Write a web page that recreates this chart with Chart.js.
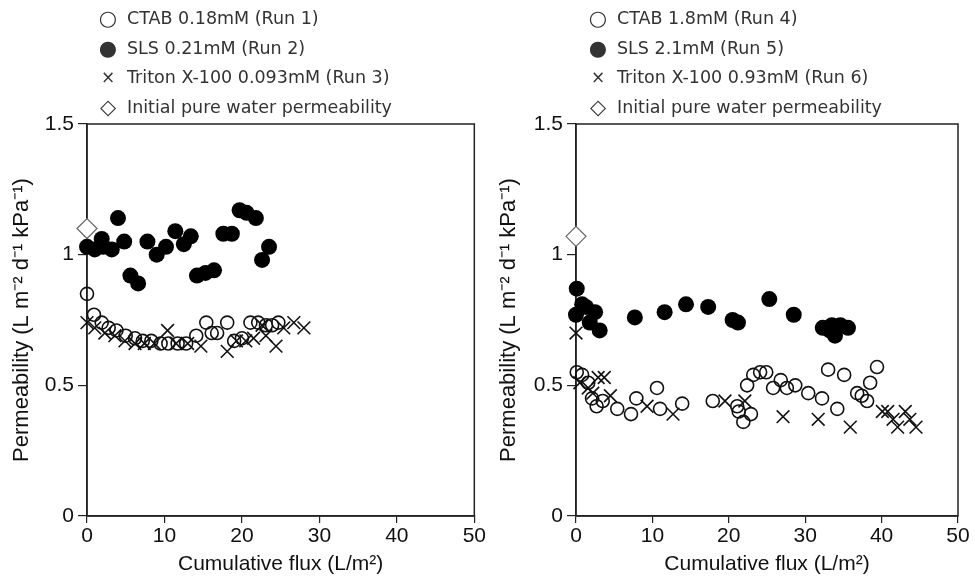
<!DOCTYPE html>
<html>
<head>
<meta charset="utf-8">
<script src="https://cdn.jsdelivr.net/npm/chart.js@4.4.1/dist/chart.umd.min.js"></script>
<style>
    body { margin: 0; background: #fff; width: 975px; height: 578px; position: relative; overflow: hidden; }
    .panel { position: absolute; top: 0; height: 578px; }
    .legend { position: absolute; top: 5px; font-family: 'DejaVu Sans', sans-serif; font-size: 17.5px; color: #333; }
    .legend div { height: 29.5px; line-height: 26px; white-space: nowrap; }
    .legend .mk { display: inline-block; width: 22px; text-align: center; margin-right: 8px; font-size: 21px; vertical-align: top; }
    .legend .mk.small { font-size: 17px; }
</style>
</head>
<body>
<div class="panel" style="left:0;width:487px;"><canvas id="leftChart"></canvas></div>
<div class="panel" style="left:487px;width:488px;"><canvas id="rightChart"></canvas></div>
<div class="legend" id="leftLegend" style="left:97px;"></div>
<div class="legend" id="rightLegend" style="left:587px;"></div>
<script>
// axis ticks
const fluxTicks = [0, 10, 20, 30, 40, 50];
const permTicks = [0, 0.5, 1, 1.5];

// left panel: low concentration runs
const ctab1Flux = [0, 0.9, 1.9, 2.8, 3.8, 5.0, 6.2, 7.2, 8.3, 9.5, 10.5, 11.7, 12.8, 14.1, 15.4, 16.1, 16.8, 18.1, 19.0, 20.0, 21.1, 22.1, 23.1, 23.9, 24.7];
const ctab1Perm = [0.85, 0.77, 0.74, 0.72, 0.71, 0.69, 0.68, 0.67, 0.67, 0.66, 0.66, 0.66, 0.66, 0.69, 0.74, 0.70, 0.70, 0.74, 0.67, 0.68, 0.74, 0.74, 0.73, 0.73, 0.74];

const sls2Flux = [0, 1.0, 1.9, 2.1, 3.2, 4.0, 4.8, 5.6, 6.6, 7.8, 9.0, 10.2, 11.4, 12.5, 13.4, 14.2, 15.3, 16.4, 17.6, 18.7, 19.7, 20.6, 21.8, 22.6, 23.5];
const sls2Perm = [1.03, 1.02, 1.06, 1.03, 1.02, 1.14, 1.05, 0.92, 0.89, 1.05, 1.00, 1.03, 1.09, 1.04, 1.07, 0.92, 0.93, 0.94, 1.08, 1.08, 1.17, 1.16, 1.14, 0.98, 1.03];

const triton3Flux = [0, 1.0, 2.3, 3.6, 4.9, 6.2, 7.4, 8.7, 10.4, 11.5, 13.0, 14.7, 18.1, 19.3, 20.5, 21.5, 22.6, 23.1, 24.4, 25.4, 26.7, 28.0];
const triton3Perm = [0.74, 0.72, 0.70, 0.69, 0.67, 0.66, 0.66, 0.66, 0.71, 0.66, 0.66, 0.65, 0.63, 0.67, 0.67, 0.68, 0.73, 0.69, 0.65, 0.72, 0.74, 0.72];

const initialLeftFlux = [0];
const initialLeftPerm = [1.10];

// right panel: high concentration runs
const ctab4Flux = [0.1, 0.8, 1.6, 2.1, 2.7, 3.5, 5.4, 7.2, 7.9, 10.6, 11.0, 13.9, 17.9, 21.1, 21.3, 21.9, 22.9, 22.4, 23.2, 24.1, 24.9, 25.8, 26.8, 27.6, 28.7, 30.4, 32.2, 33.0, 34.2, 35.1, 36.8, 37.4, 38.1, 38.5, 39.4];
const ctab4Perm = [0.55, 0.54, 0.51, 0.45, 0.42, 0.44, 0.41, 0.39, 0.45, 0.49, 0.41, 0.43, 0.44, 0.42, 0.40, 0.36, 0.39, 0.50, 0.54, 0.55, 0.55, 0.49, 0.52, 0.49, 0.50, 0.47, 0.45, 0.56, 0.41, 0.54, 0.47, 0.46, 0.44, 0.51, 0.57];

const sls5Flux = [0, 0.1, 0.8, 1.3, 1.8, 2.5, 3.1, 7.7, 11.6, 14.4, 17.3, 20.5, 21.2, 25.3, 28.5, 32.3, 33.2, 33.5, 33.9, 34.6, 35.6];
const sls5Perm = [0.77, 0.87, 0.81, 0.80, 0.74, 0.78, 0.71, 0.76, 0.78, 0.81, 0.80, 0.75, 0.74, 0.83, 0.77, 0.72, 0.71, 0.73, 0.69, 0.73, 0.72];

const triton6Flux = [0, 0.5, 1.6, 2.2, 2.9, 3.7, 4.5, 9.3, 12.7, 19.5, 22.1, 27.1, 31.7, 35.9, 40.1, 40.8, 41.5, 42.1, 43.1, 43.7, 44.5];
const triton6Perm = [0.70, 0.51, 0.49, 0.47, 0.53, 0.53, 0.46, 0.42, 0.39, 0.44, 0.44, 0.38, 0.37, 0.34, 0.40, 0.40, 0.37, 0.34, 0.40, 0.37, 0.34];

const initialRightFlux = [0];
const initialRightPerm = [1.07];

const leftLabels = ['CTAB 0.18mM (Run 1)', 'SLS 0.21mM (Run 2)', 'Triton X-100 0.093mM (Run 3)', 'Initial pure water permeability'];
const rightLabels = ['CTAB 1.8mM (Run 4)', 'SLS 2.1mM (Run 5)', 'Triton X-100 0.93mM (Run 6)', 'Initial pure water permeability'];
const legendMarks = ['○', '●', '×', '◇'];

function toPoints(xs, ys) {
    return xs.map((x, i) => ({ x: x, y: ys[i] }));
}

// box round the plot area
const framePlugin = {
    id: 'frame',
    beforeDatasetsDraw(chart) {
        const { ctx, chartArea: a } = chart;
        ctx.save();
        ctx.strokeStyle = '#222';
        ctx.lineWidth = 1.5;
        ctx.strokeRect(a.left, a.top, a.right - a.left, a.bottom - a.top);
        ctx.restore();
    }
};

function buildChart(id, labels, ctab, sls, triton, initial, axisWidth, padRight) {
    const ctx = document.getElementById(id).getContext('2d');
    const tickFont = { family: 'Liberation Sans', size: 21 };
    return new Chart(ctx, {
        type: 'scatter',
        data: {
            datasets: [{
                label: labels[3],
                data: toPoints(initial[0], initial[1]),
                pointStyle: 'rectRot',
                pointRadius: 10,
                borderColor: '#666',
                backgroundColor: '#fff',
                borderWidth: 1.2,
                clip: false,
                order: 0
            }, {
                label: labels[0],
                data: toPoints(ctab[0], ctab[1]),
                pointStyle: 'circle',
                pointRadius: 6.5,
                borderColor: '#111',
                backgroundColor: 'rgba(255,255,255,0)',
                borderWidth: 1.6,
                clip: false,
                order: 1
            }, {
                label: labels[2],
                data: toPoints(triton[0], triton[1]),
                pointStyle: 'crossRot',
                pointRadius: 9,
                borderColor: '#111',
                borderWidth: 1.6,
                clip: false,
                order: 2
            }, {
                label: labels[1],
                data: toPoints(sls[0], sls[1]),
                pointStyle: 'circle',
                pointRadius: 8,
                borderColor: '#000',
                backgroundColor: '#000',
                borderWidth: 0,
                clip: false,
                order: 3
            }]
        },
        options: {
            responsive: false,
            animation: false,
            events: [],
            layout: { padding: { top: 124, right: padRight, left: 0, bottom: 0 } },
            plugins: { legend: { display: false }, tooltip: { enabled: false } },
            scales: {
                x: {
                    min: 0, max: 50,
                    afterBuildTicks: (s) => { s.ticks = fluxTicks.map(v => ({ value: v })); },
                    afterFit: (s) => { s.height = 62; },
                    border: { display: true, color: '#222', width: 1.5 },
                    grid: { drawOnChartArea: false, drawTicks: true, tickLength: 7, color: '#222', lineWidth: 1.2 },
                    ticks: { color: '#111', font: tickFont, padding: 1, maxRotation: 0 },
                    title: { display: true, text: 'Cumulative flux (L/m²)', color: '#111', font: { family: 'Liberation Sans', size: 21 }, padding: { top: 0, bottom: 1 } }
                },
                y: {
                    min: 0, max: 1.5,
                    afterBuildTicks: (s) => { s.ticks = permTicks.map(v => ({ value: v })); },
                    afterFit: (s) => { s.width = axisWidth; },
                    border: { display: true, color: '#222', width: 1.5 },
                    grid: { drawOnChartArea: false, drawTicks: true, tickLength: 9, color: '#222', lineWidth: 1.2 },
                    ticks: { color: '#111', font: tickFont, padding: 4, callback: (v) => String(v) },
                    title: { display: true, text: 'Permeability (L m⁻² d⁻¹ kPa⁻¹)', color: '#111', font: { family: 'Liberation Sans', size: 22 }, padding: { top: 9, bottom: 0 } }
                }
            }
        },
        plugins: [framePlugin]
    });
}

function buildLegend(id, labels) {
    document.getElementById(id).innerHTML = labels.map((text, i) =>
        `<div><span class="mk${i === 2 ? ' small' : ''}">${legendMarks[i]}</span>${text}</div>`
    ).join('');
}

function setSize(id, w, h) {
    const c = document.getElementById(id);
    c.width = w; c.height = h;
    c.style.width = w + 'px'; c.style.height = h + 'px';
}

setSize('leftChart', 487, 578);
setSize('rightChart', 488, 578);

buildChart('leftChart', leftLabels, [ctab1Flux, ctab1Perm], [sls2Flux, sls2Perm],
    [triton3Flux, triton3Perm], [initialLeftFlux, initialLeftPerm], 87, 10);
buildChart('rightChart', rightLabels, [ctab4Flux, ctab4Perm], [sls5Flux, sls5Perm],
    [triton6Flux, triton6Perm], [initialRightFlux, initialRightPerm], 89, 17);

buildLegend('leftLegend', leftLabels);
buildLegend('rightLegend', rightLabels);
</script>
</body>
</html>
